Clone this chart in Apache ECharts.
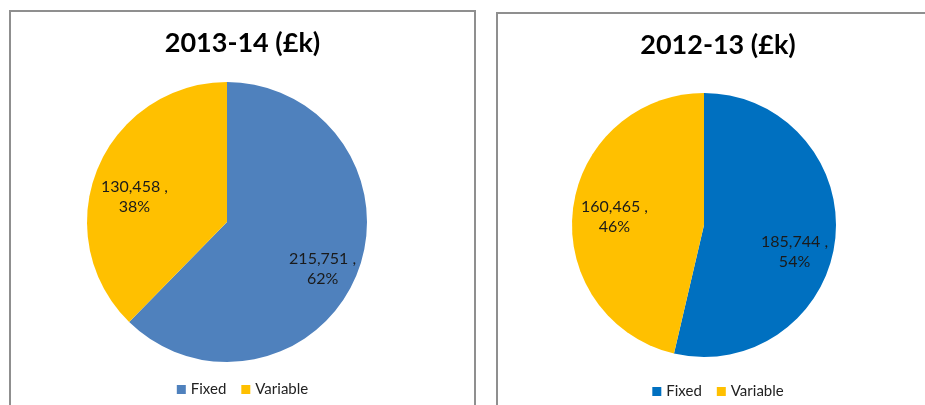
<!DOCTYPE html>
<html>
<head>
<meta charset="utf-8">
<script src="https://cdn.jsdelivr.net/npm/echarts@6/dist/echarts.min.js"></script>
<style>
  html, body { margin: 0; padding: 0; background: #fff; width: 925px; height: 405px; overflow: hidden; position: relative; }
  .panel { position: absolute; border: 2px solid #8f8f8f; background: #fff; }
  #left { left: 9px; top: 10px; width: 463px; height: 400px; }
  #right { left: 496px; top: 12px; width: 440px; height: 400px; }
</style>
</head>
<body>
<div class="panel" id="left"></div>
<div class="panel" id="right"></div>
<script>
// 数据
var categories = ['Fixed', 'Variable']
var values1314 = [215751, 130458]
var values1213 = [185744, 160465]
var titles = ['2013-14 (£k)', '2012-13 (£k)']

var fontName = 'Lato, "Open Sans", sans-serif'

function labelText (p) {
  return p.value.toLocaleString('en-US') + ' ,\n' + Math.round(p.percent) + '%'
}

function drawPie (id, title, values, colors, center, radius, offsets) {
  var chart = echarts.init(document.getElementById(id))
  var data = categories.map(function (name, i) {
    return {
      name: name,
      value: values[i],
      itemStyle: { color: colors[i] },
      label: { offset: offsets[i] }
    }
  })
  chart.setOption({
    animation: false,
    title: {
      text: title,
      left: 'center',
      top: 18,
      padding: 0,
      textStyle: { fontFamily: fontName, fontSize: 27, fontWeight: 'bold', color: '#000' }
    },
    legend: {
      data: categories,
      left: 'center',
      top: 365,
      icon: 'rect',
      itemWidth: 9,
      itemHeight: 9,
      itemGap: 15,
      textStyle: { fontFamily: fontName, fontSize: 15, color: '#222' }
    },
    series: [{
      type: 'pie',
      center: center,
      radius: radius,
      startAngle: 90,
      clockwise: true,
      percentPrecision: 1,
      label: {
        show: true,
        position: 'inside',
        formatter: labelText,
        fontFamily: fontName,
        fontSize: 16,
        lineHeight: 20,
        color: '#1a1a1a'
      },
      labelLine: { show: false },
      emphasis: { disabled: true },
      data: data
    }]
  })
  window.addEventListener('resize', function () {
    chart.resize()
  })
}

drawPie('left', titles[0], values1314, ['#4f81bd', '#ffc000'], [216, 210], 140, [[28, 19], [-25, 2]])
drawPie('right', titles[1], values1213, ['#0070c0', '#ffc000'], [206, 211], 132, [[22, 19], [-21, 0]])
</script>
</body>
</html>
